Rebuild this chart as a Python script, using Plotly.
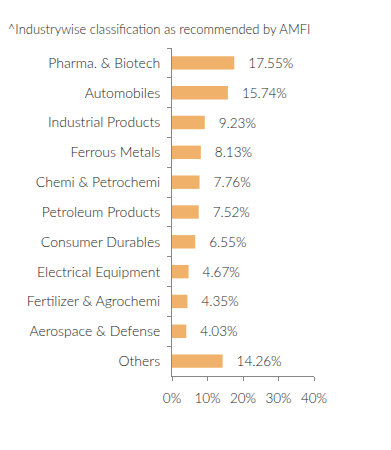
import plotly.graph_objects as go

categories = ["Pharma. & Biotech", "Automobiles", "Industrial Products", "Ferrous Metals",
              "Chemi & Petrochemi", "Petroleum Products", "Consumer Durables",
              "Electrical Equipment", "Fertilizer & Agrochemi", "Aerospace & Defense", "Others"]
values = [17.55, 15.74, 9.23, 8.13, 7.76, 7.52, 6.55, 4.67, 4.35, 4.03, 14.26]
x_ticks = [0, 10, 20, 30, 40]
x_tick_labels = ["0%", "10%", "20%", "30%", "40%"]
title_text = "^Industrywise classification as recommended by AMFI"

FONT = "Lato"
TXT = "#1e1e1e"

fig = go.Figure(go.Bar(
    x=values, y=categories, orientation="h",
    marker=dict(color="#F0B26B", line=dict(width=0)),
    width=0.45,
    text=["   %.2f%%" % v for v in values],
    textposition="outside", cliponaxis=False, constraintext="none",
    textfont=dict(family=FONT, size=13.5, color=TXT, weight=300),
))

fig.update_layout(
    width=391, height=450,
    margin=dict(l=172, r=77, t=48, b=74),
    paper_bgcolor="white", plot_bgcolor="white",
    font=dict(family=FONT, size=13, color=TXT, weight=300),
    showlegend=False,
    title=dict(text=title_text, x=0.02, xanchor="left", y=0.935, yanchor="middle",
               font=dict(family=FONT, size=13, color=TXT, weight=300)),
    xaxis=dict(range=[0, 40], tickvals=x_ticks, ticktext=x_tick_labels,
               showgrid=False, zeroline=False, showline=True, linecolor="#888888",
               ticks="outside", ticklen=4, tickcolor="#888888",
               ticklabelstandoff=6, automargin=False,
               tickfont=dict(family=FONT, size=13.5, color=TXT, weight=300)),
    yaxis=dict(autorange="reversed", showgrid=False, showline=True, linecolor="#888888",
               ticks="outside", ticklen=4, tickcolor="#888888", tickson="boundaries",
               ticklabelstandoff=8, automargin=False,
               tickfont=dict(family=FONT, size=14, color=TXT, weight=300)),
)

fig.write_html("out.html", config={"displayModeBar": False})
with open("out.html", encoding="utf-8") as f:
    html = f.read()
html = html.replace("<body>", '<body style="margin:0">', 1)
with open("out.html", "w", encoding="utf-8") as f:
    f.write(html)
